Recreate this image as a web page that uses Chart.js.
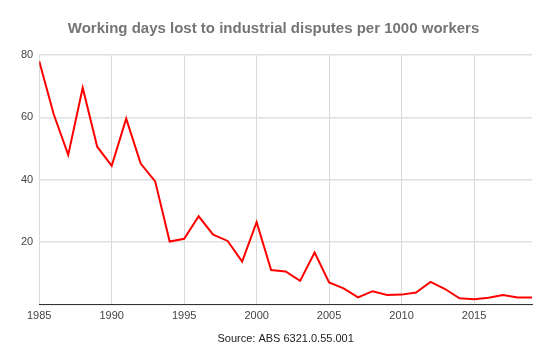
<!DOCTYPE html>
<html>
<head>
<meta charset="utf-8">
<script src="https://cdn.jsdelivr.net/npm/chart.js@4"></script>
<style>
  html, body { margin: 0; padding: 0; background: #fff; }
  #wrap { width: 550px; height: 362px; position: relative; }
</style>
</head>
<body>
<div id="wrap"><canvas id="chart"></canvas></div>
<script>
// Working days lost per 1000 workers, by year
const years = [1985, 1986, 1987, 1988, 1989, 1990, 1991, 1992, 1993, 1994,
               1995, 1996, 1997, 1998, 1999, 2000, 2001, 2002, 2003, 2004,
               2005, 2006, 2007, 2008, 2009, 2010, 2011, 2012, 2013, 2014,
               2015, 2016, 2017, 2018, 2019];
const daysLost = [78, 61, 48, 69.5, 50.6, 44.5, 59.6, 45.2, 39.5, 20.2,
                  21.1, 28.3, 22.4, 20.4, 13.8, 26.4, 11.1, 10.6, 7.6, 16.7,
                  7.1, 5.2, 2.3, 4.3, 3.1, 3.2, 3.9, 7.3, 5.0, 2.0,
                  1.7, 2.2, 3.1, 2.3, 2.3];
const xTicks = [1985, 1990, 1995, 2000, 2005, 2010, 2015];
const yTicks = [20, 40, 60, 80];

Chart.defaults.font.family = '"Liberation Sans", Arial, sans-serif';
Chart.defaults.color = '#444';

const ctx = document.getElementById('chart').getContext('2d');
new Chart(ctx, {
    type: 'line',
    data: {
        datasets: [{
            data: years.map((y, i) => ({ x: y, y: daysLost[i] })),
            borderColor: '#ff0000',
            borderWidth: 2,
            pointRadius: 0,
            tension: 0,
            fill: false
        }]
    },
    options: {
        responsive: true,
        maintainAspectRatio: false,
        animation: false,
        layout: { padding: { left: 15, right: 18, top: 8, bottom: 12 } },
        plugins: {
            legend: { display: false },
            tooltip: { enabled: false },
            title: {
                display: true,
                text: 'Working days lost to industrial disputes per 1000 workers',
                color: '#757575',
                font: { size: 15, weight: 'bold' },
                padding: { top: 12, bottom: 17 }
            }
        },
        scales: {
            x: {
                type: 'linear',
                min: years[0],
                max: years[years.length - 1],
                afterBuildTicks: axis => {
                    axis.ticks = xTicks.map(v => ({ value: v }));
                },
                ticks: {
                    maxRotation: 0,
                    padding: 5,
                    font: { size: 11 },
                    color: '#444',
                    callback: v => String(v)
                },
                grid: {
                    color: '#d9d9d9',
                    drawTicks: false
                },
                border: { color: '#333', width: 1 },
                title: {
                    display: true,
                    text: 'Source: ABS 6321.0.55.001',
                    font: { size: 11 },
                    color: '#222',
                    padding: { top: 5 }
                }
            },
            y: {
                min: 0,
                max: 80,
                afterBuildTicks: axis => {
                    axis.ticks = [0].concat(yTicks).map(v => ({ value: v }));
                },
                ticks: {
                    font: { size: 11 },
                    color: '#444',
                    padding: 6,
                    callback: v => v === 0 ? '' : v
                },
                grid: {
                    color: '#e0e0e0',
                    lineWidth: 1.5,
                    drawTicks: false
                },
                border: { display: false }
            }
        }
    }
});
</script>
</body>
</html>
